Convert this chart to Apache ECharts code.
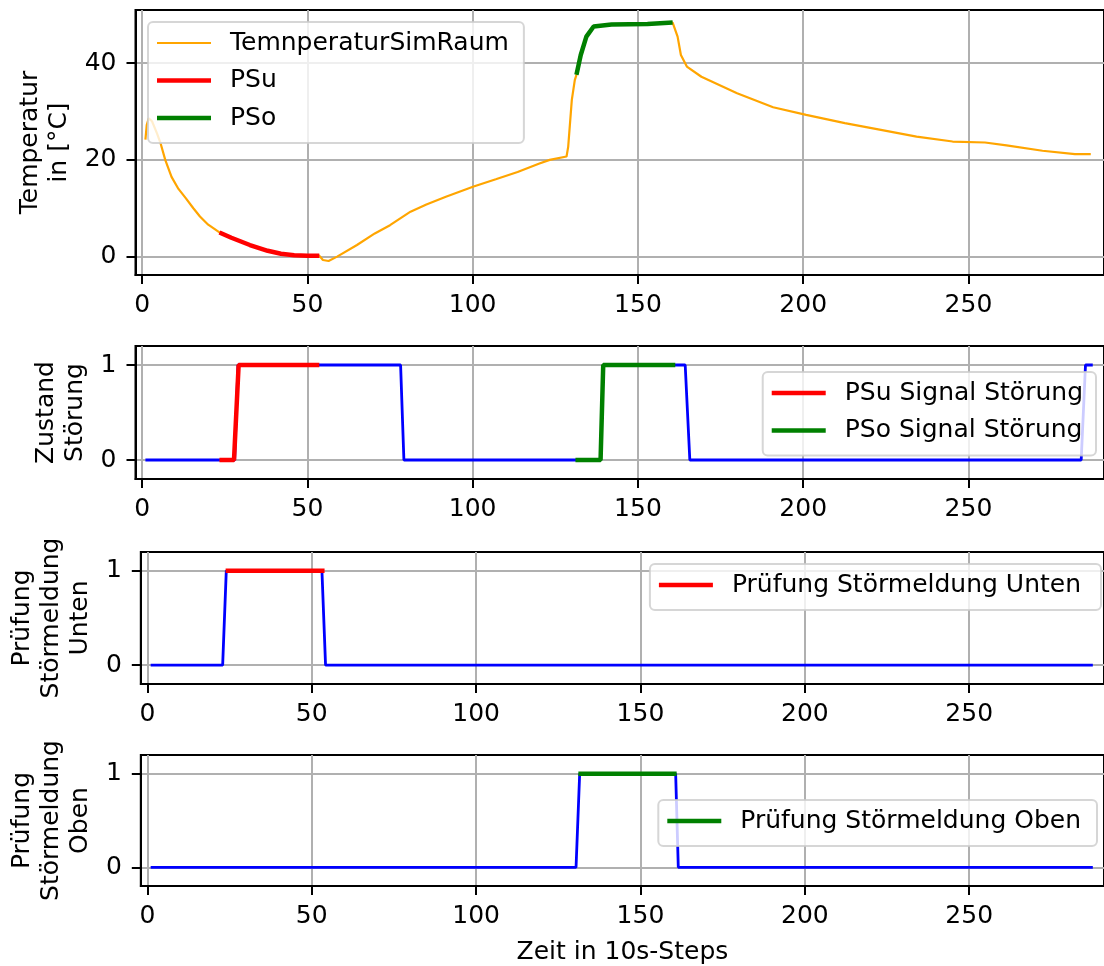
<!DOCTYPE html>
<html>
<head>
<meta charset="utf-8">
<script src="https://cdn.jsdelivr.net/npm/echarts@6/dist/echarts.min.js"></script>
<style>
  html, body { margin: 0; padding: 0; background: #fff; }
  #chart { width: 1104px; height: 966px; }
</style>
</head>
<body>
<div id="chart"></div>
<script>
// Werte, [Zeitschritt, Wert]
var tempSimRaum = [
  [1, 24.2], [1.4, 27.2], [2, 28.6], [3, 28], [4.5, 25.5], [5.6, 23.4], [7, 20], [8.9, 16.5],
  [11, 14], [13.2, 12.1], [15.5, 10], [17.5, 8.3], [20, 6.6], [23.4, 5.0], [27, 3.9],
  [32.6, 2.4], [38, 1.2], [42, 0.6], [46, 0.3], [50, 0.2], [53.6, 0.2], [54.7, -0.7],
  [56.4, -0.9], [59, 0], [65, 2.4], [70.4, 4.8], [75, 6.5], [81.2, 9.3], [86, 10.8],
  [91.9, 12.4], [100.3, 14.5], [107, 16], [113.6, 17.5], [120, 19.2], [123.3, 20.0],
  [128.4, 20.7], [128.9, 22.7], [130, 32.4], [130.9, 36.5], [131.4, 37.6], [132.7, 41.7],
  [134.4, 45.5], [136.6, 47.6], [142, 48], [152.9, 48.1], [160.5, 48.4], [162, 45.5],
  [163, 41.7], [164.8, 39.3], [169.2, 37.2], [180, 33.8], [190.9, 30.9], [200.9, 29.3],
  [212.6, 27.6], [223.5, 26.2], [234.3, 24.8], [245.2, 23.8], [255, 23.6], [261.5, 23.0],
  [272.4, 21.9], [282.2, 21.2], [287, 21.2]
];
var psuTemp = [
  [23.4, 5.0], [27, 3.9], [32.6, 2.4], [38, 1.2], [42, 0.6], [46, 0.3], [50, 0.2], [53.6, 0.2]
];
var psoTemp = [
  [131.4, 37.6], [132.7, 41.7], [134.4, 45.5], [136.6, 47.6], [142, 48], [152.9, 48.1], [160.5, 48.4]
];

var zustandStoerung = [
  [1, 0], [28, 0], [29, 1], [78.2, 1], [79.2, 0], [138.7, 0], [139.5, 1], [164.3, 1],
  [165.7, 0], [284.1, 0], [285.4, 1], [287.6, 1]
];
var psuSignal = [[23.4, 0], [27.8, 0], [29.2, 1], [53.6, 1]];
var psoSignal = [[131.1, 0], [138.7, 0], [139.5, 1], [161.3, 1]];

var pruefungUnten = [[1, 0], [22.9, 0], [24, 1], [53.1, 1], [54.2, 0], [287.6, 0]];
var pruefungUntenAktiv = [[23.8, 1], [53.9, 1]];

var pruefungOben = [[1, 0], [130.4, 0], [131.5, 1], [160.7, 1], [161.5, 0], [287.6, 0]];
var pruefungObenAktiv = [[131.1, 1], [161, 1]];

var xTicks = [0, 50, 100, 150, 200, 250];
var yTicksTemp = [0, 20, 40];
var yTicksBool = [0, 1];

var font = 'DejaVu Sans';
var fs = 25;

var grids = [
  { left: 135.5, top: 10, width: 973, height: 265 },
  { left: 135.5, top: 346, width: 973, height: 133 },
  { left: 135.5, top: 552, width: 973, height: 132 },
  { left: 135.5, top: 755, width: 973, height: 134 }
];

function xAxisFor(i) {
  var ax = {
    type: 'value', gridIndex: i, min: -2, max: 291,
    axisLine: { show: true, onZero: false, lineStyle: { color: '#000', width: 2 } },
    axisTick: { show: true, length: 9, customValues: xTicks, lineStyle: { color: '#000', width: 2 } },
    axisLabel: { customValues: xTicks, margin: 18, color: '#000', fontFamily: font, fontSize: fs },
    splitLine: { show: true, lineStyle: { color: '#b0b0b0', width: 2 } }
  };
  if (i === 3) {
    ax.name = 'Zeit in 10s-Steps';
    ax.nameLocation = 'middle';
    ax.nameGap = 54;
    ax.nameTextStyle = { color: '#000', fontFamily: font, fontSize: fs };
  }
  return ax;
}

function yAxisFor(i, name, min, max, ticks, gap) {
  return {
    type: 'value', gridIndex: i, min: min, max: max,
    name: name, nameLocation: 'middle', nameGap: gap, nameRotate: 90,
    nameTextStyle: { color: '#000', fontFamily: font, fontSize: fs, lineHeight: 29 },
    axisLine: { show: true, onZero: false, lineStyle: { color: '#000', width: 2 } },
    axisTick: { show: true, length: 9, customValues: ticks, lineStyle: { color: '#000', width: 2 } },
    axisLabel: { customValues: ticks, margin: 19, color: '#000', fontFamily: font, fontSize: fs },
    splitLine: { show: true, lineStyle: { color: '#b0b0b0', width: 2 } }
  };
}

function lineSeries(name, data, i, color, width, z) {
  return {
    name: name, type: 'line', data: data, xAxisIndex: i, yAxisIndex: i,
    showSymbol: false, symbol: 'none', z: z, silent: true,
    itemStyle: { color: color },
    lineStyle: { color: color, width: width }
  };
}

var thinIcon = 'path://M0,0h27v1h-27z';
var thickIcon = 'path://M0,0h12v1h-12z';

function legendFor(pos, items, padRight) {
  var lg = {
    orient: 'vertical', top: pos.top,
    itemWidth: 54, itemHeight: 14, itemGap: 9.5,
    symbolKeepAspect: true,
    padding: [7, padRight, 11, 9],
    backgroundColor: 'rgba(255,255,255,0.8)',
    borderColor: 'rgba(204,204,204,0.8)', borderWidth: 2, borderRadius: 5,
    itemStyle: { borderWidth: 0 },
    textStyle: { color: '#000', fontFamily: font, fontSize: fs, lineHeight: 28, padding: [0, 0, 0, 14] },
    selectedMode: false,
    data: items
  };
  if (pos.left != null) lg.left = pos.left;
  if (pos.right != null) lg.right = pos.right;
  return lg;
}

var chart = echarts.init(document.getElementById('chart'), null, { renderer: 'canvas' });
chart.setOption({
  animation: false,
  backgroundColor: '#fff',
  grid: grids.map(function (g) {
    return Object.assign({ show: true, borderColor: '#000', borderWidth: 2, backgroundColor: 'transparent' }, g);
  }),
  xAxis: [0, 1, 2, 3].map(xAxisFor),
  yAxis: [
    yAxisFor(0, 'Temperatur\nin [°C]', -3.8, 51, yTicksTemp, 58),
    yAxisFor(1, 'Zustand\nStörung', -0.2, 1.2, yTicksBool, 44),
    yAxisFor(2, 'Prüfung\nStörmeldung\nUnten', -0.2, 1.2, yTicksBool, 44),
    yAxisFor(3, 'Prüfung\nStörmeldung\nOben', -0.2, 1.2, yTicksBool, 44)
  ],
  legend: [
    legendFor({ left: 148, top: 22 }, [
      { name: 'TemnperaturSimRaum', icon: thinIcon },
      { name: 'PSu', icon: thickIcon },
      { name: 'PSo', icon: thickIcon }
    ], 15),
    legendFor({ right: 8, top: 372 }, [
      { name: 'PSu Signal Störung', icon: thickIcon },
      { name: 'PSo Signal Störung', icon: thickIcon }
    ], 13),
    legendFor({ right: 3, top: 564 }, [
      { name: 'Prüfung Störmeldung Unten', icon: thickIcon }
    ], 20),
    legendFor({ right: 7, top: 800 }, [
      { name: 'Prüfung Störmeldung Oben', icon: thickIcon }
    ], 16)
  ],
  series: [
    lineSeries('TemnperaturSimRaum', tempSimRaum, 0, '#ffa500', 2.2, 2),
    lineSeries('PSu', psuTemp, 0, '#ff0000', 4.5, 3),
    lineSeries('PSo', psoTemp, 0, '#008000', 4.5, 3),
    lineSeries('Zustand Störung', zustandStoerung, 1, '#0000ff', 2.8, 2),
    lineSeries('PSu Signal Störung', psuSignal, 1, '#ff0000', 4.5, 3),
    lineSeries('PSo Signal Störung', psoSignal, 1, '#008000', 4.5, 3),
    lineSeries('Prüfung Unten', pruefungUnten, 2, '#0000ff', 2.8, 2),
    lineSeries('Prüfung Störmeldung Unten', pruefungUntenAktiv, 2, '#ff0000', 4.5, 3),
    lineSeries('Prüfung Oben', pruefungOben, 3, '#0000ff', 2.8, 2),
    lineSeries('Prüfung Störmeldung Oben', pruefungObenAktiv, 3, '#008000', 4.5, 3)
  ]
});
window.onresize = function () {
  chart.resize();
};
</script>
</body>
</html>
